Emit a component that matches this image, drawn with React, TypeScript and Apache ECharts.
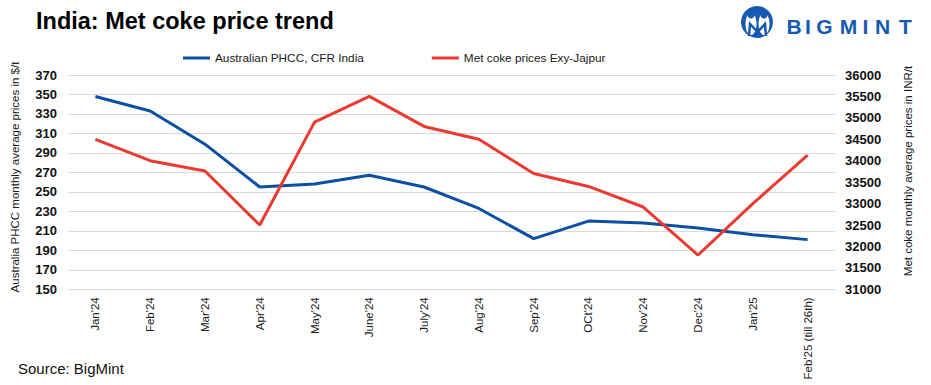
import React, { useEffect, useRef } from "react";
import * as echarts from "echarts";

const categories = [
  "Jan'24", "Feb'24", "Mar'24", "Apr'24", "May'24", "June'24", "July'24",
  "Aug'24", "Sep'24", "OCt'24", "Nov'24", "Dec'24", "Jan'25", "Feb'25 (till 26th)",
];
const phccValues = [348, 333, 299, 255, 258, 267, 255, 233, 202, 220, 218, 213, 206, 201];
const metCokeValues = [34500, 34000, 33760, 32500, 34900, 35500, 34800, 34500, 33700, 33400, 32920, 31800, 33000, 34130];
const seriesNames = ["Australian PHCC, CFR India", "Met coke prices Exy-Jajpur"];
const logoLetters = ["B", "I", "G", "M", "I", "N", "T"];
const logoLetterX = [794, 808, 824.5, 848.5, 865.5, 882.5, 905.5];

const BLUE = "#0c4fa3";
const RED = "#ea3a32";
const LOGO = "#1559b3";
const FONT = "'Liberation Sans', Arial, sans-serif";

export default function App() {
  const ref = useRef<HTMLDivElement>(null);
  useEffect(() => {
    if (!ref.current) return;
    const chart = echarts.init(ref.current, null, { renderer: "svg" });
    const letters = logoLetters.map((l, i) => ({
      type: "text",
      x: logoLetterX[i],
      y: 26,
      style: {
        text: l,
        fontSize: 21,
        fontWeight: 900,
        fontFamily: FONT,
        fill: LOGO,
        align: "center",
        verticalAlign: "middle",
      },
    }));
    chart.setOption({
      animation: false,
      backgroundColor: "#ffffff",
      textStyle: { fontFamily: FONT },
      grid: { left: 68, right: 96, top: 75, bottom: 95.7 },
      legend: {
        left: 178,
        top: 47,
        itemWidth: 27,
        itemHeight: 3,
        itemGap: 68,
        icon: "rect",
        textStyle: { fontSize: 11.8, color: "#1a1a1a", fontFamily: FONT },
        data: seriesNames,
      },
      xAxis: {
        type: "category",
        data: categories,
        boundaryGap: true,
        axisLine: { show: false },
        axisTick: { show: false },
        axisLabel: { rotate: 90, fontSize: 11.5, color: "#1a1a1a", margin: 8, interval: 0 },
      },
      yAxis: [
        {
          type: "value",
          min: 150,
          max: 370,
          interval: 20,
          axisLine: { show: false },
          axisTick: { show: false },
          splitLine: { lineStyle: { color: "#d9d9d9", width: 1 } },
          axisLabel: { fontSize: 13, fontWeight: "bold", color: "#111", margin: 11 },
        },
        {
          type: "value",
          min: 31000,
          max: 36000,
          interval: 500,
          position: "right",
          axisLine: { show: false },
          axisTick: { show: false },
          splitLine: { show: false },
          axisLabel: {
            fontSize: 13,
            fontWeight: "bold",
            color: "#111",
            margin: 10,
            formatter: (v: number) => String(v),
          },
        },
      ],
      series: [
        {
          name: seriesNames[0],
          type: "line",
          yAxisIndex: 0,
          data: phccValues,
          showSymbol: false,
          symbol: "none",
          lineStyle: { color: BLUE, width: 3 },
          itemStyle: { color: BLUE },
        },
        {
          name: seriesNames[1],
          type: "line",
          yAxisIndex: 1,
          data: metCokeValues,
          showSymbol: false,
          symbol: "none",
          lineStyle: { color: RED, width: 3 },
          itemStyle: { color: RED },
        },
      ],
      graphic: [
        {
          type: "text",
          x: 36,
          y: 21,
          style: {
            text: "India: Met coke price trend",
            fontSize: 23.5,
            fontWeight: "bold",
            fontFamily: FONT,
            fill: "#000",
            verticalAlign: "middle",
          },
        },
        {
          type: "text",
          x: 15,
          y: 177,
          rotation: Math.PI / 2,
          style: {
            text: "Australia PHCC monthly average prices in $/t",
            fontSize: 11.5,
            fontFamily: FONT,
            fill: "#1a1a1a",
            align: "center",
            verticalAlign: "middle",
          },
        },
        {
          type: "text",
          x: 908,
          y: 171,
          rotation: Math.PI / 2,
          style: {
            text: "Met coke monthly average prices in INR/t",
            fontSize: 11.5,
            fontFamily: FONT,
            fill: "#1a1a1a",
            align: "center",
            verticalAlign: "middle",
          },
        },
        {
          type: "text",
          x: 18,
          y: 368,
          style: {
            text: "Source: BigMint",
            fontSize: 15,
            fontFamily: FONT,
            fill: "#111",
            verticalAlign: "middle",
          },
        },
        { type: "circle", shape: { cx: 757, cy: 22, r: 16 }, style: { fill: LOGO } },
        { type: "ellipse", shape: { cx: 751, cy: 24, rx: 5.5, ry: 11 }, style: { fill: "#fff" } },
        { type: "ellipse", shape: { cx: 764, cy: 24, rx: 5.5, ry: 11 }, style: { fill: "#fff" } },
        { type: "circle", shape: { cx: 751, cy: 15, r: 3.5 }, style: { fill: LOGO } },
        { type: "circle", shape: { cx: 764, cy: 15, r: 3.5 }, style: { fill: LOGO } },
        {
          type: "polyline",
          shape: { points: [[749, 36], [750, 24], [757.5, 32], [765, 24], [766, 36]] },
          style: { stroke: LOGO, lineWidth: 2.5, fill: "none" },
        },
        ...letters,
      ],
    });
    return () => chart.dispose();
  }, []);
  return (
    <div
      ref={ref}
      style={{ position: "absolute", left: 0, top: 0, width: 931, height: 385 }}
    />
  );
}
